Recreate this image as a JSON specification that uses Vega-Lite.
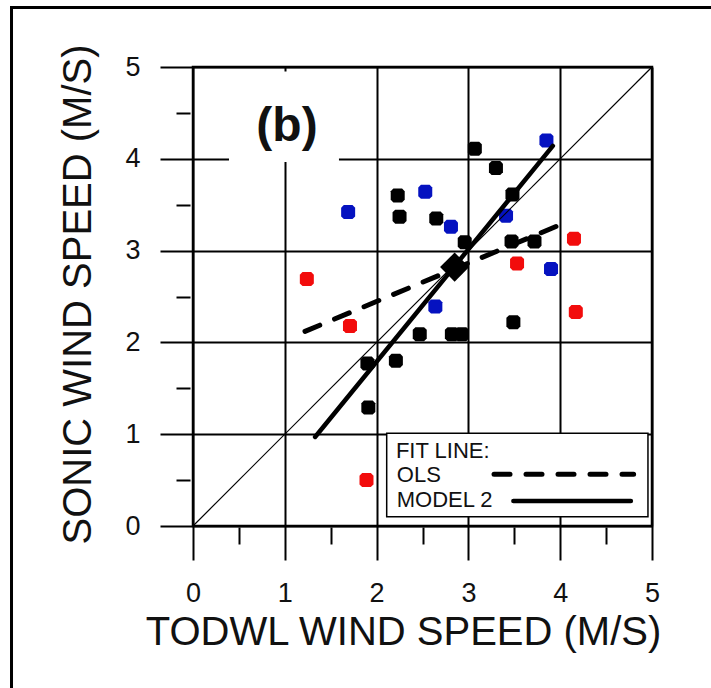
{
  "$schema": "https://vega.github.io/schema/vega-lite/v6.json",
  "width": 459,
  "height": 459,
  "autosize": {"type": "none"},
  "padding": {"left": 193, "top": 67, "right": 59, "bottom": 162},
  "background": "white",
  "config": {
    "view": {"stroke": "black", "strokeWidth": 2.5},
    "font": "Liberation Sans",
    "axis": {
      "domain": false,
      "tickColor": "black",
      "tickWidth": 2,
      "labelColor": "#111",
      "titleColor": "#111",
      "gridColor": "black",
      "gridWidth": 2,
      "gridOpacity": 1,
      "labelFont": "Liberation Sans",
      "titleFont": "Liberation Sans",
      "titleFontWeight": "normal",
      "labelFlush": false,
      "labelOverlap": false,
      "format": "d"
    }
  },
  "datasets": {
    "obs": [
      {"todwl": 3.07, "sonic": 4.11, "set": "S1"},
      {"todwl": 3.30, "sonic": 3.90, "set": "S1"},
      {"todwl": 3.48, "sonic": 3.61, "set": "S1"},
      {"todwl": 2.23, "sonic": 3.60, "set": "S1"},
      {"todwl": 2.25, "sonic": 3.37, "set": "S1"},
      {"todwl": 2.65, "sonic": 3.35, "set": "S1"},
      {"todwl": 2.96, "sonic": 3.09, "set": "S1"},
      {"todwl": 3.47, "sonic": 3.10, "set": "S1"},
      {"todwl": 3.72, "sonic": 3.10, "set": "S1"},
      {"todwl": 3.49, "sonic": 2.22, "set": "S1"},
      {"todwl": 2.47, "sonic": 2.09, "set": "S1"},
      {"todwl": 2.82, "sonic": 2.09, "set": "S1"},
      {"todwl": 2.93, "sonic": 2.09, "set": "S1"},
      {"todwl": 1.90, "sonic": 1.77, "set": "S1"},
      {"todwl": 2.21, "sonic": 1.80, "set": "S1"},
      {"todwl": 1.91, "sonic": 1.29, "set": "S1"},
      {"todwl": 1.69, "sonic": 3.42, "set": "S2"},
      {"todwl": 2.53, "sonic": 3.64, "set": "S2"},
      {"todwl": 2.81, "sonic": 3.26, "set": "S2"},
      {"todwl": 3.85, "sonic": 4.20, "set": "S2"},
      {"todwl": 3.41, "sonic": 3.38, "set": "S2"},
      {"todwl": 3.90, "sonic": 2.80, "set": "S2"},
      {"todwl": 2.64, "sonic": 2.39, "set": "S2"},
      {"todwl": 1.24, "sonic": 2.69, "set": "S3"},
      {"todwl": 1.71, "sonic": 2.18, "set": "S3"},
      {"todwl": 3.53, "sonic": 2.86, "set": "S3"},
      {"todwl": 4.15, "sonic": 3.13, "set": "S3"},
      {"todwl": 4.17, "sonic": 2.33, "set": "S3"},
      {"todwl": 1.89, "sonic": 0.50, "set": "S3"}
    ],
    "fits": [
      {"fit": "1:1", "todwl": 0, "sonic": 0},
      {"fit": "1:1", "todwl": 5, "sonic": 5},
      {"fit": "OLS", "todwl": 1.22, "sonic": 2.12},
      {"fit": "OLS", "todwl": 4.02, "sonic": 3.29},
      {"fit": "MODEL 2", "todwl": 1.33, "sonic": 0.97},
      {"fit": "MODEL 2", "todwl": 3.92, "sonic": 4.14}
    ],
    "centroid": [{"todwl": 2.85, "sonic": 2.82}],
    "one": [{}]
  },
  "layer": [
    {
      "layer": [
        {
          "data": {"name": "one"},
          "mark": {"type": "rect", "fill": null, "stroke": "black", "strokeWidth": 3},
          "encoding": {
            "x": {
              "datum": -1.977,
              "type": "quantitative",
              "scale": {"domain": [0, 5], "nice": false, "zero": false},
              "axis": {
                "orient": "bottom",
                "values": [0, 1, 2, 3, 4, 5],
                "grid": true,
                "tickSize": 34,
                "labelFontSize": 27,
                "labelPadding": 20,
                "title": "TODWL WIND SPEED (M/S)",
                "titleFontSize": 40,
                "titleX": 210,
                "titleY": 118,
                "titleBaseline": "alphabetic",
                "titleAlign": "center",
                "titleAnchor": null
              }
            },
            "x2": {"datum": 6},
            "y": {
              "datum": 5.648,
              "type": "quantitative",
              "scale": {"domain": [0, 5], "nice": false, "zero": false},
              "axis": {
                "orient": "left",
                "values": [0, 1, 2, 3, 4, 5],
                "grid": true,
                "tickSize": 33,
                "labelFontSize": 27,
                "labelPadding": 20,
                "title": "SONIC WIND SPEED (M/S)",
                "titleFontSize": 40,
                "titleAngle": -90,
                "titleX": -103,
                "titleY": 227,
                "titleBaseline": "alphabetic",
                "titleAlign": "center",
                "titleAnchor": null
              }
            },
            "y2": {"datum": -2}
          }
        },
        {
          "data": {"name": "one"},
          "mark": {"type": "rect", "fill": "white", "stroke": null},
          "encoding": {
            "x": {"datum": 0.392, "type": "quantitative"},
            "x2": {"datum": 1.59},
            "y": {"datum": 4.95, "type": "quantitative"},
            "y2": {"datum": 3.965}
          }
        },
        {
          "data": {"name": "obs"},
          "mark": {
            "type": "point",
            "filled": true,
            "opacity": 1,
            "shape": "M-0.62,-1L0.62,-1L1,-0.62L1,0.62L0.62,1L-0.62,1L-1,0.62L-1,-0.62Z",
            "size": 196
          },
          "encoding": {
            "x": {"field": "todwl", "type": "quantitative"},
            "y": {"field": "sonic", "type": "quantitative"},
            "color": {
              "field": "set",
              "type": "nominal",
              "scale": {"domain": ["S1", "S2", "S3"], "range": ["#000000", "#0512c0", "#f20c0c"]},
              "legend": null
            }
          }
        },
        {
          "data": {"name": "fits"},
          "transform": [{"filter": "datum.fit === '1:1'"}],
          "mark": {"type": "line", "color": "black", "strokeWidth": 1.2},
          "encoding": {
            "x": {"field": "todwl", "type": "quantitative"},
            "y": {"field": "sonic", "type": "quantitative"}
          }
        },
        {
          "data": {"name": "fits"},
          "transform": [{"filter": "datum.fit === 'OLS'"}],
          "mark": {"type": "line", "color": "black", "strokeWidth": 5, "strokeDash": [16, 16], "strokeCap": "round"},
          "encoding": {
            "x": {"field": "todwl", "type": "quantitative"},
            "y": {"field": "sonic", "type": "quantitative"}
          }
        },
        {
          "data": {"name": "fits"},
          "transform": [{"filter": "datum.fit === 'MODEL 2'"}],
          "mark": {"type": "line", "color": "black", "strokeWidth": 4.5, "strokeCap": "round"},
          "encoding": {
            "x": {"field": "todwl", "type": "quantitative"},
            "y": {"field": "sonic", "type": "quantitative"}
          }
        },
        {
          "data": {"name": "centroid"},
          "mark": {"type": "point", "shape": "diamond", "filled": true, "color": "black", "opacity": 1, "size": 850},
          "encoding": {
            "x": {"field": "todwl", "type": "quantitative"},
            "y": {"field": "sonic", "type": "quantitative"}
          }
        },
        {
          "data": {"name": "one"},
          "mark": {"type": "rect", "fill": "white", "stroke": "black", "strokeWidth": 1.5},
          "encoding": {
            "x": {"datum": 2.11, "type": "quantitative"},
            "x2": {"datum": 4.956},
            "y": {"datum": 1.01, "type": "quantitative"},
            "y2": {"datum": 0.101}
          }
        },
        {
          "data": {"name": "one"},
          "mark": {"type": "text", "text": "FIT LINE:", "align": "left", "baseline": "alphabetic", "fontSize": 22, "color": "#111"},
          "encoding": {
            "x": {"datum": 2.21, "type": "quantitative"},
            "y": {"datum": 0.74, "type": "quantitative"}
          }
        },
        {
          "data": {"name": "one"},
          "mark": {"type": "text", "text": "OLS", "align": "left", "baseline": "alphabetic", "fontSize": 22, "color": "#111"},
          "encoding": {
            "x": {"datum": 2.22, "type": "quantitative"},
            "y": {"datum": 0.48, "type": "quantitative"}
          }
        },
        {
          "data": {"name": "one"},
          "mark": {"type": "text", "text": "MODEL 2", "align": "left", "baseline": "alphabetic", "fontSize": 22, "color": "#111"},
          "encoding": {
            "x": {"datum": 2.22, "type": "quantitative"},
            "y": {"datum": 0.21, "type": "quantitative"}
          }
        },
        {
          "data": {"name": "one"},
          "mark": {"type": "rule", "color": "black", "strokeWidth": 5, "strokeDash": [16, 16], "strokeCap": "round"},
          "encoding": {
            "x": {"datum": 3.279, "type": "quantitative"},
            "x2": {"datum": 4.80},
            "y": {"datum": 0.563, "type": "quantitative"}
          }
        },
        {
          "data": {"name": "one"},
          "mark": {"type": "rule", "color": "black", "strokeWidth": 4.5, "strokeCap": "round"},
          "encoding": {
            "x": {"datum": 3.49, "type": "quantitative"},
            "x2": {"datum": 4.77},
            "y": {"datum": 0.272, "type": "quantitative"}
          }
        },
        {
          "data": {"name": "one"},
          "mark": {"type": "text", "text": "(b)", "align": "center", "baseline": "alphabetic", "fontSize": 48, "fontWeight": "bold", "color": "#111"},
          "encoding": {
            "x": {"datum": 1.024, "type": "quantitative"},
            "y": {"datum": 4.197, "type": "quantitative"}
          }
        }
      ]
    },
    {
      "data": {"name": "obs"},
      "mark": {"type": "point", "opacity": 0},
      "encoding": {
        "x": {
          "field": "todwl",
          "type": "quantitative",
          "axis": {
            "orient": "bottom",
            "values": [0.5, 1.5, 2.5, 3.5, 4.5],
            "grid": false,
            "labels": false,
            "tickSize": 17,
            "offset": 1,
            "title": null
          }
        },
        "y": {
          "field": "sonic",
          "type": "quantitative",
          "axis": {
            "orient": "left",
            "values": [0.5, 1.5, 2.5, 3.5, 4.5],
            "grid": false,
            "labels": false,
            "tickSize": 14,
            "offset": 3,
            "title": null
          }
        }
      }
    }
  ],
  "resolve": {"axis": {"x": "independent", "y": "independent"}}
}
